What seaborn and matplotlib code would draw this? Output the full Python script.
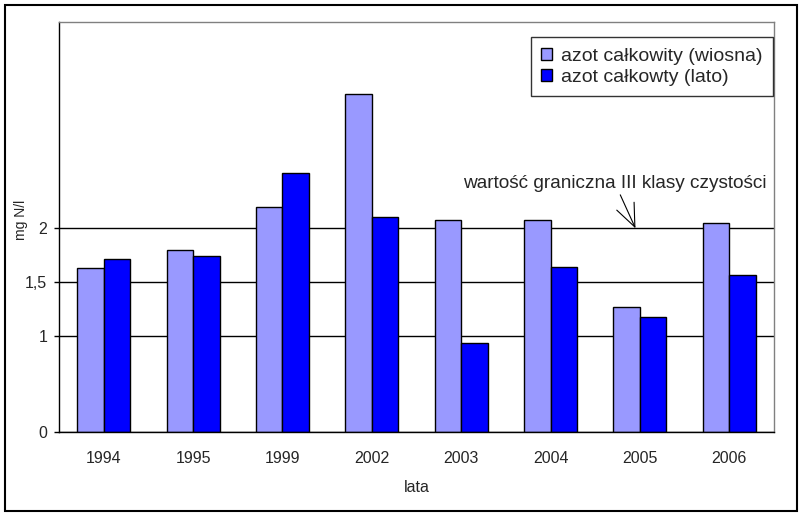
import numpy as np
import pandas as pd
import matplotlib
matplotlib.use("Agg")
import matplotlib.pyplot as plt
import seaborn as sns
from matplotlib.patches import Rectangle

years = ["1994", "1995", "1999", "2002", "2003", "2004", "2005", "2006"]
spring = [1.63, 1.80, 2.20, 3.24, 2.08, 2.08, 1.275, 2.045]
summer = [1.72, 1.74, 2.51, 2.10, 0.93, 1.64, 1.18, 1.57]
series_names = ["azot całkowity (wiosna)", "azot całkowty (lato)"]
colors = ["#9999FF", "#0000FF"]
ytick_vals = [0, 1, 1.5, 2]
ytick_labels = ["0", "1", "1,5", "2"]
annot_text = "wartość graniczna III klasy czystości"

df = pd.DataFrame({
    "rok": years * 2,
    "wartosc": spring + summer,
    "seria": [series_names[0]] * len(years) + [series_names[1]] * len(years),
})

sns.set_style("white")
plt.rcParams["font.family"] = ["Liberation Sans", "DejaVu Sans"]

fig = plt.figure(figsize=(8.02, 5.19), dpi=100)
ax = fig.add_axes([59 / 802, 1 - 432 / 519, 715 / 802, 410 / 519])

sns.barplot(data=df, x="rok", y="wartosc", hue="seria", hue_order=series_names,
            palette=colors, width=0.593, edgecolor="black", linewidth=1,
            saturation=1, ax=ax, legend=True)

k = 0.886
def fwd(y):
    y = np.asarray(y, dtype=float)
    return np.where(y < 1, y * k, y - 1 + k)
def inv(t):
    t = np.asarray(t, dtype=float)
    return np.where(t < k, t / k, t + 1 - k)

ax.set_yscale("function", functions=(fwd, inv))
ax.set_ylim(0, 3.91)
ax.set_xlim(-0.5, len(years) - 0.5)

ax.set_yticks(ytick_vals)
ax.set_yticklabels(ytick_labels)
ax.yaxis.set_minor_locator(matplotlib.ticker.NullLocator())
ax.yaxis.grid(True, color="black", linewidth=1)
ax.set_axisbelow(True)

ax.set_xticks(range(len(years)))
ax.set_xticklabels(years)
ax.set_xticks(np.arange(-0.5, len(years)), minor=True)
ax.tick_params(axis="x", which="major", length=0, pad=14, labelsize=11.5)
ax.tick_params(axis="x", which="minor", length=4, width=1, direction="out", color="black")
ax.tick_params(axis="y", which="major", length=3.5, width=1, direction="out",
               color="black", pad=5, labelsize=11.5, left=True)

for s in ["left", "bottom"]:
    ax.spines[s].set_color("black")
    ax.spines[s].set_linewidth(1)
for s in ["top", "right"]:
    ax.spines[s].set_color("#808080")
    ax.spines[s].set_linewidth(1)

ax.set_xlabel("lata", fontsize=11.5, labelpad=10)
ax.set_ylabel("mg N/l", fontsize=10)
ax.yaxis.set_label_coords(-0.043, 0.517)

leg = ax.legend(loc="upper right", bbox_to_anchor=(0.9986, 0.963), frameon=True,
                fancybox=False, edgecolor="black", fontsize=14, handlelength=0.55,
                handleheight=0.55, handletextpad=0.45, borderpad=0.55, labelspacing=0.2,
                borderaxespad=0)
leg.get_frame().set_linewidth(1)

ax.annotate(annot_text, xy=(5.95, 2.0), xytext=(5.72, 2.34),
            ha="center", va="bottom", fontsize=13.7,
            arrowprops=dict(arrowstyle="->,head_length=1.2,head_width=0.5",
                            color="black", lw=0.8, shrinkA=0, shrinkB=0))

fig.patches.append(Rectangle((5 / 802, 1 - 511 / 519), 792 / 802, 506 / 519,
                             transform=fig.transFigure, fill=False,
                             edgecolor="black", linewidth=1.5))

fig.savefig("out.png", dpi=100)
